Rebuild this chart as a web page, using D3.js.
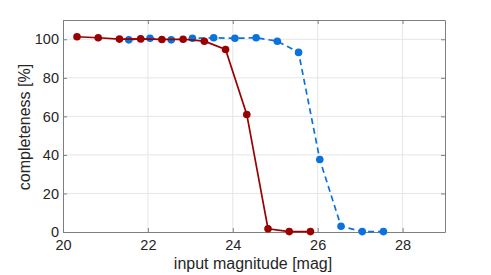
<!DOCTYPE html>
<html>
<head>
<meta charset="utf-8">
<script src="https://cdn.jsdelivr.net/npm/d3@7"></script>
<style>
  body { margin: 0; background: #fff; }
  text { font-family: "Liberation Sans", Arial, sans-serif; fill: #262626; }
</style>
</head>
<body>
<div id="chart"></div>
<script>
// Data
const redMag = [20.33, 20.83, 21.33, 21.83, 22.33, 22.83, 23.33, 23.83, 24.33, 24.83, 25.33, 25.83];
const redPct = [101.3, 100.8, 100.1, 100.2, 99.9, 100.0, 99.0, 94.7, 61.0, 1.7, 0.2, 0.2];
const blueMag = [21.55, 22.05, 22.55, 23.05, 23.55, 24.05, 24.55, 25.05, 25.55, 26.05, 26.55, 27.05, 27.55];
const bluePct = [99.7, 100.5, 99.7, 100.5, 100.8, 100.5, 100.8, 99.0, 93.2, 37.6, 3.0, 0.2, 0.2];
const xTicks = [20, 22, 24, 26, 28];
const yTicks = [0, 20, 40, 60, 80, 100];

// Dimensions and margins
const margin = { top: 20, right: 46, bottom: 43, left: 63 },
      width = 491 - margin.left - margin.right,
      height = 275 - margin.top - margin.bottom;

const svg = d3.select("#chart")
  .append("svg")
  .attr("width", 491)
  .attr("height", 275)
  .append("g")
  .attr("transform", `translate(${margin.left},${margin.top})`);

// Scales
const xScale = d3.scaleLinear().domain([20, 29]).range([0, width]);
const yScale = d3.scaleLinear().domain([0, 110]).range([height, 0]);

// Grid
svg.append("g").selectAll("line")
  .data(xTicks.slice(1))
  .enter().append("line")
  .attr("x1", d => xScale(d)).attr("x2", d => xScale(d))
  .attr("y1", 0).attr("y2", height)
  .attr("stroke", "#e6e6e6");

svg.append("g").selectAll("line")
  .data(yTicks.slice(1))
  .enter().append("line")
  .attr("x1", 0).attr("x2", width)
  .attr("y1", d => yScale(d)).attr("y2", d => yScale(d))
  .attr("stroke", "#e6e6e6");

// Axes (inward ticks, box)
const axisColor = "#7f7f7f";
function styleAxis(g) {
  g.select(".domain").attr("stroke", axisColor);
  g.selectAll(".tick line").attr("stroke", axisColor);
  g.selectAll(".tick text").style("font-size", "14.5px").attr("fill", "#262626");
}

svg.append("g")
  .attr("transform", `translate(0,${height})`)
  .call(d3.axisBottom(xScale).tickValues(xTicks).tickSizeInner(-4).tickSizeOuter(0).tickPadding(8))
  .call(styleAxis);

svg.append("g")
  .call(d3.axisLeft(yScale).tickValues(yTicks).tickSizeInner(-4).tickSizeOuter(0).tickPadding(4))
  .call(styleAxis);

svg.append("g")
  .call(d3.axisTop(xScale).tickValues(xTicks).tickSizeInner(-4).tickSizeOuter(0).tickFormat(""))
  .call(styleAxis);

svg.append("g")
  .attr("transform", `translate(${width},0)`)
  .call(d3.axisRight(yScale).tickValues(yTicks).tickSizeInner(-4).tickSizeOuter(0).tickFormat(""))
  .call(styleAxis);

// Labels
svg.append("text")
  .attr("x", width / 2 - 1)
  .attr("y", height + 37)
  .attr("text-anchor", "middle")
  .style("font-size", "16px")
  .text("input magnitude [mag]");

svg.append("text")
  .attr("transform", "rotate(-90)")
  .attr("x", -height / 2 - 1)
  .attr("y", -margin.left + 30)
  .attr("text-anchor", "middle")
  .style("font-size", "16px")
  .text("completeness [%]");

// Series
const line = d3.line().x(d => xScale(d[0])).y(d => yScale(d[1]));
const marks = svg.append("g");

function drawSeries(mags, pcts, color, dash) {
  const pts = mags.map((m, i) => [m, pcts[i]]);
  marks.append("path")
    .datum(pts)
    .attr("d", line)
    .attr("fill", "none")
    .attr("stroke", color)
    .attr("stroke-width", 1.7)
    .attr("stroke-dasharray", dash);
  marks.selectAll(null)
    .data(pts)
    .enter().append("circle")
    .attr("cx", d => xScale(d[0]))
    .attr("cy", d => yScale(d[1]))
    .attr("r", 3.8)
    .attr("fill", color);
}

drawSeries(blueMag, bluePct, "#0a72de", "6,4");
drawSeries(redMag, redPct, "#990000", null);
</script>
</body>
</html>
